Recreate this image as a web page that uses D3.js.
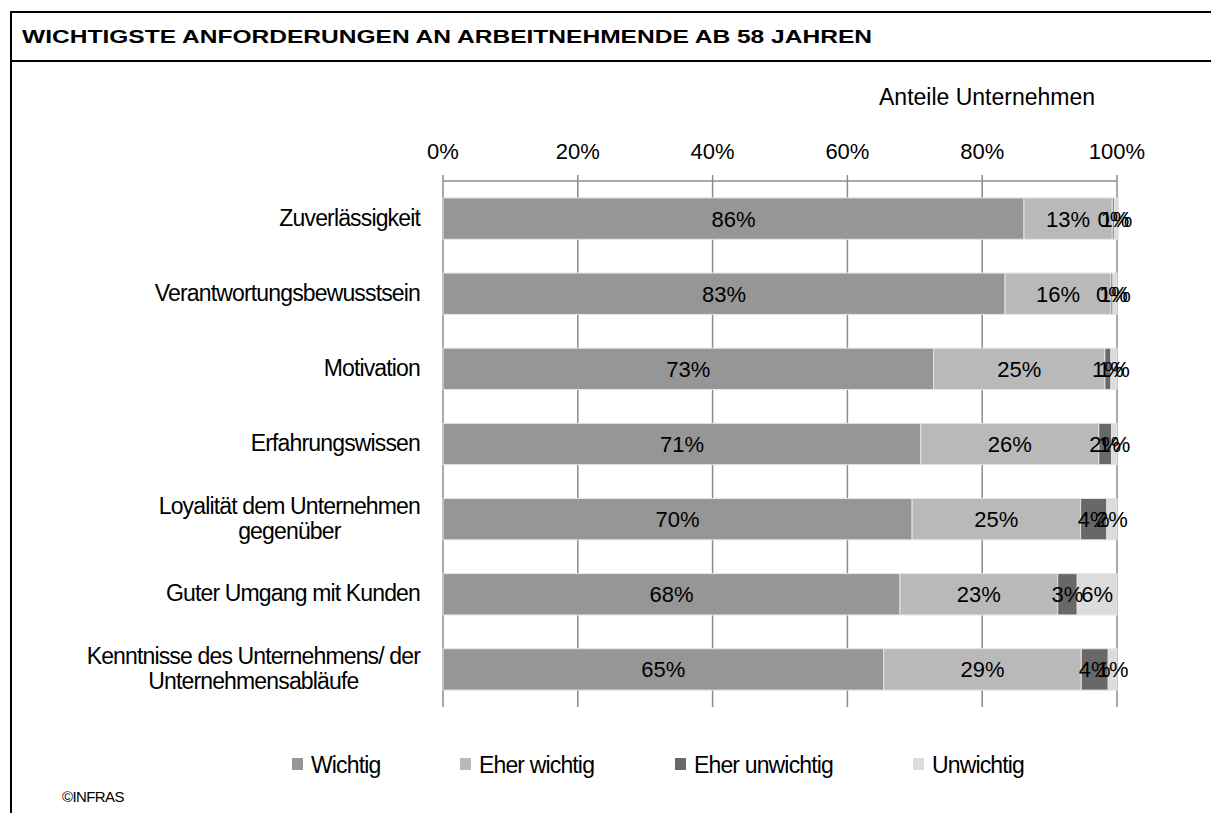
<!DOCTYPE html>
<html>
<head>
<meta charset="UTF-8">
<title>Anforderungen</title>
<script src="https://d3js.org/d3.v7.min.js"></script>
<style>
  body { margin: 0; background: #fff; }
  svg { display: block; font-family: "Liberation Sans", Arial, sans-serif; }
  .cond { letter-spacing: -0.85px; }
</style>
</head>
<body>
<svg width="1211" height="813"></svg>
<script>
  // Daten
  var categories = [
    "Zuverlässigkeit",
    "Verantwortungsbewusstsein",
    "Motivation",
    "Erfahrungswissen",
    "Loyalität dem Unternehmen|gegenüber",
    "Guter Umgang mit Kunden",
    "Kenntnisse des Unternehmens/ der|Unternehmensabläufe"
  ]
  var seriesNames = ["Wichtig", "Eher wichtig", "Eher unwichtig", "Unwichtig"]
  var wichtig       = [86.2, 83.4, 72.8, 70.9, 69.6, 67.8, 65.4]
  var eherWichtig   = [13.1, 15.7, 25.4, 26.4, 25.0, 23.4, 29.3]
  var eherUnwichtig = [0.3, 0.3, 0.9, 1.9, 3.9, 2.9, 4.0]
  var unwichtig     = [0.6, 0.6, 0.9, 0.8, 1.5, 5.9, 1.3]
  var tickValues = [0, 20, 40, 60, 80, 100]
  var colors = ["#969696", "#b9b9b9", "#686868", "#dcdcdc"]

  var series = [wichtig, eherWichtig, eherUnwichtig, unwichtig]

  var svg = d3.select("svg")

  // Rahmen und Titel
  svg.append("rect")
    .attr("x", 11).attr("y", 12)
    .attr("width", 1230).attr("height", 840)
    .attr("fill", "none").attr("stroke", "#000").attr("stroke-width", 2)
  svg.append("line")
    .attr("x1", 11).attr("x2", 1211).attr("y1", 61).attr("y2", 61)
    .attr("stroke", "#000").attr("stroke-width", 2)
  svg.append("text")
    .attr("x", 22).attr("y", 43)
    .attr("font-weight", "bold").attr("font-size", 19)
    .attr("textLength", 850).attr("lengthAdjust", "spacingAndGlyphs")
    .text("WICHTIGSTE ANFORDERUNGEN AN ARBEITNEHMENDE AB 58 JAHREN")

  svg.append("text")
    .attr("x", 879).attr("y", 105)
    .attr("font-size", 23)
    .text("Anteile Unternehmen")

  var xScale = d3.scaleLinear().domain([0, 100]).range([443, 1117])
  var yScale = d3.scaleBand().domain(d3.range(categories.length)).range([181, 707]).paddingInner(0.45).paddingOuter(0.225)

  // Gitter
  svg.append("g").selectAll("line")
    .data(tickValues)
    .enter().append("line")
    .attr("x1", function(d) { return xScale(d) })
    .attr("x2", function(d) { return xScale(d) })
    .attr("y1", 175).attr("y2", 707)
    .attr("stroke", "#8c8c8c").attr("stroke-width", 1.5)

  svg.append("line")
    .attr("x1", xScale(0)).attr("x2", xScale(100))
    .attr("y1", 181).attr("y2", 181)
    .attr("stroke", "#8c8c8c").attr("stroke-width", 1.5)

  svg.append("g").selectAll("text")
    .data(tickValues)
    .enter().append("text")
    .attr("x", function(d) { return xScale(d) })
    .attr("y", 159)
    .attr("text-anchor", "middle")
    .attr("font-size", 22)
    .text(function(d) { return d + "%" })

  // Balken
  var stacked = categories.map(function(c, i) {
    var x0 = 0
    return series.map(function(s, k) {
      var seg = { cat: i, k: k, v: s[i], x0: x0, x1: x0 + s[i] }
      x0 += s[i]
      return seg
    })
  })

  var rows = svg.append("g").selectAll("g")
    .data(stacked)
    .enter().append("g")

  rows.selectAll("rect")
    .data(function(d) { return d })
    .enter().append("rect")
    .attr("x", function(d) { return xScale(d.x0) })
    .attr("width", function(d) { return xScale(d.x1) - xScale(d.x0) })
    .attr("y", function(d) { return yScale(d.cat) })
    .attr("height", yScale.bandwidth())
    .attr("fill", function(d) { return colors[d.k] })
    .attr("stroke", "#e4e4e4").attr("stroke-width", 1)

  rows.selectAll("text")
    .data(function(d) { return d })
    .enter().append("text")
    .attr("x", function(d) { return xScale((d.x0 + d.x1) / 2) })
    .attr("y", function(d) { return yScale(d.cat) + yScale.bandwidth() / 2 + 8 })
    .attr("text-anchor", "middle")
    .attr("font-size", 22)
    .text(function(d) { return Math.round(d.v) + "%" })

  // Kategorien
  var labels = svg.append("g").selectAll("text")
    .data(categories)
    .enter().append("text")
    .attr("class", "cond")
    .attr("text-anchor", "end")
    .attr("font-size", 23)
    .attr("y", function(d, i) {
      var n = d.split("|").length
      return yScale(i) + yScale.bandwidth() / 2 + 7 - (n - 1) * 12
    })

  labels.selectAll("tspan")
    .data(function(d) { return d.split("|") })
    .enter().append("tspan")
    .attr("x", 420)
    .attr("dy", function(d, j) { return j == 0 ? 0 : 25 })
    .text(function(d) { return d })

  // zweite Zeile zentriert unter der ersten
  labels.each(function() {
    var spans = d3.select(this).selectAll("tspan").nodes()
    if (spans.length > 1) {
      var w0 = spans[0].getComputedTextLength()
      var center = 420 - w0 / 2
      spans.forEach(function(s, j) {
        if (j > 0) {
          d3.select(s).attr("x", center).attr("text-anchor", "middle")
        }
      })
    }
  })

  // Legende
  var legendX = [292, 460, 675, 913]
  var legend = svg.append("g").selectAll("g")
    .data(seriesNames)
    .enter().append("g")
    .attr("transform", function(d, i) { return "translate(" + legendX[i] + ",758)" })

  legend.append("rect")
    .attr("width", 11).attr("height", 12)
    .attr("fill", function(d, i) { return colors[i] })

  legend.append("text")
    .attr("class", "cond")
    .attr("x", 19).attr("y", 15)
    .attr("font-size", 23)
    .text(function(d) { return d })

  svg.append("text")
    .attr("x", 62).attr("y", 802)
    .attr("font-size", 15)
    .attr("letter-spacing", "-0.6px")
    .text("©INFRAS")
</script>
</body>
</html>
